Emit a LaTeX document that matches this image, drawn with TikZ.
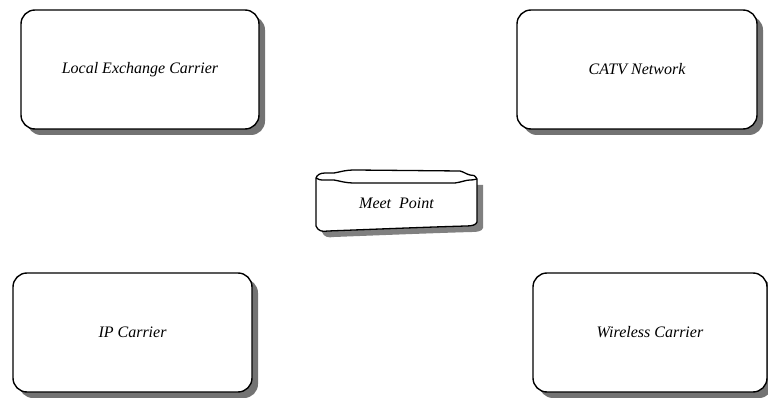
\documentclass[tikz,border=0pt]{standalone}
\usepackage{fontspec}
\setmainfont{Liberation Serif}
\usetikzlibrary{shadows}
\usetikzlibrary{positioning}

\begin{document}
\begin{tikzpicture}[x=1pt,y=-1pt,
  carrier/.style={draw=black,line width=1.4pt,fill=white,rounded corners=14pt,
    minimum width=238pt,minimum height=119pt,inner sep=0pt,
    font=\fontsize{16}{19}\selectfont\itshape,
    drop shadow={shadow xshift=6pt,shadow yshift=-6pt,fill=black!55,opacity=1}},
  meetline/.style={draw=black,line width=1.3pt,line join=round}]
\useasboundingbox (0,0) rectangle (768,398);
\node[carrier] (lec) at (140,69.5) {Local Exchange Carrier};
\node[carrier,minimum width=240pt] (catv) at (637,69.5) {CATV Network};
\node[carrier,minimum width=239pt] (ip) at (132.5,332.5) {IP Carrier};
\node[carrier,minimum width=234pt] (wireless) at (650,332.5) {Wireless Carrier};

% meet point
\fill[black!50] [shift={(6,6)}] (316,178) -- (316,226) .. controls (318,231) and (322,232) .. (328,231)
  .. controls (380,229) and (430,227) .. (466,226) .. controls (472,226) and (476,225) .. (477,222)
  -- (477,179) -- cycle;
\draw[meetline,fill=white] (316,178) -- (316,226) .. controls (318,231) and (322,232) .. (328,231)
  .. controls (380,229) and (430,227) .. (466,226) .. controls (472,226) and (476,225) .. (477,222)
  -- (477,179) .. controls (475,175) and (473,175) .. (470,175) .. controls (466,174) and (464,172) .. (460,171)
  -- (355,170) .. controls (345,170) and (340,172) .. (334,173) -- (325,173)
  .. controls (320,173) and (317,175) .. (316,178) -- cycle;
\draw[meetline] (316,178) .. controls (318,180) and (321,180) .. (325,180) -- (334,180)
  .. controls (340,181) and (345,183) .. (355,183) -- (455,183)
  .. controls (462,182) and (466,180) .. (470,180) .. controls (474,180) and (476,179) .. (477,179);
\node[font=\fontsize{16}{19}\selectfont\itshape] (meet) at (396.5,203) {Meet\ \ Point};
\end{tikzpicture}
\end{document}
